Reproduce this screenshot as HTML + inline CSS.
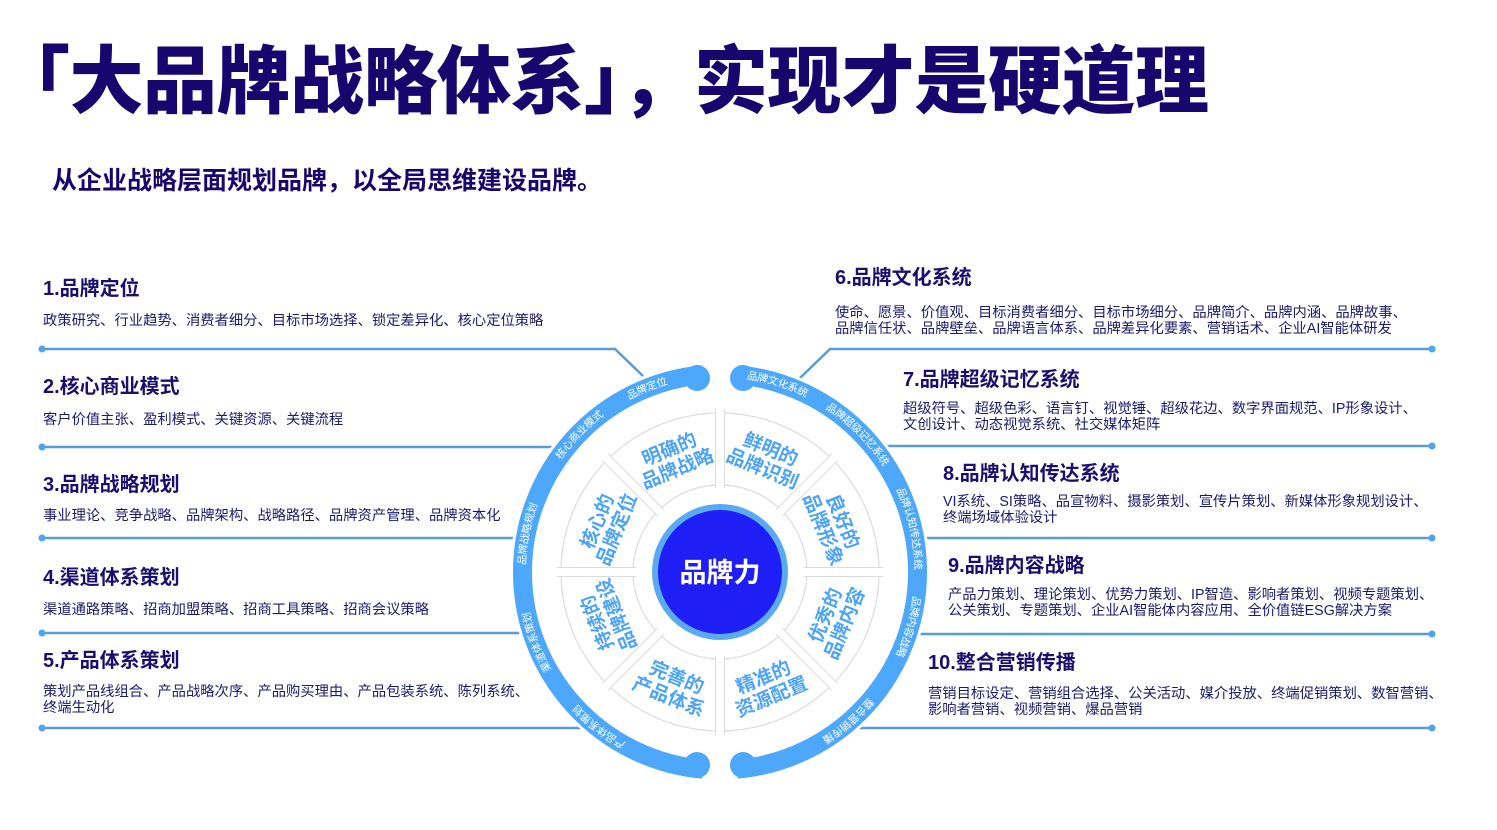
<!DOCTYPE html>
<html><head><meta charset="utf-8"><style>
html,body{margin:0;padding:0;background:#fff;}
body{width:1497px;height:830px;position:relative;overflow:hidden;font-family:"Liberation Sans","Noto Sans CJK SC",sans-serif;color:#1a0f6e;}
.t{position:absolute;white-space:nowrap;}
.title{left:-4px;top:40px;font-size:74px;font-weight:900;color:#16066e;letter-spacing:-0.5px;line-height:84px;}
.sub{left:52px;top:166px;font-size:25px;font-weight:700;color:#16066e;line-height:30px;}
.h{font-size:20px;font-weight:700;color:#1a0f6e;line-height:24px;}
.d{font-size:14.3px;color:#1a1a6e;line-height:16px;}
svg{position:absolute;left:0;top:0;}
</style></head><body>
<div class="t title">「大品牌战略体系」，实现才是硬道理</div>
<div class="t sub">从企业战略层面规划品牌，以全局思维建设品牌。</div>

<svg width="1497" height="830" viewBox="0 0 1497 830">
 <g stroke="#5b9bd5" stroke-width="2.5" fill="none">
  <polyline points="42,349 615,349 643,376"/>
  <line x1="42" y1="447" x2="555" y2="447"/>
  <line x1="42" y1="538" x2="516" y2="538"/>
  <line x1="42" y1="633" x2="522" y2="633"/>
  <line x1="42" y1="728" x2="584" y2="728"/>
  <polyline points="1432,349 830,349 800,378"/>
  <line x1="1432" y1="446" x2="885" y2="446"/>
  <line x1="1432" y1="538" x2="924" y2="538"/>
  <line x1="1432" y1="634" x2="918" y2="634"/>
  <line x1="1432" y1="728" x2="856" y2="728"/>
 </g>
 <g fill="#4da3f5">
  <circle cx="42" cy="349" r="3.5"/><circle cx="42" cy="447" r="3.5"/><circle cx="42" cy="538" r="3.5"/><circle cx="42" cy="633" r="3.5"/><circle cx="42" cy="728" r="3.5"/>
  <circle cx="1432" cy="349" r="3.5"/><circle cx="1432" cy="446" r="3.5"/><circle cx="1432" cy="538" r="3.5"/><circle cx="1432" cy="634" r="3.5"/><circle cx="1432" cy="728" r="3.5"/>
 </g>
 <defs>
  <path id="la" d="M702.7,769.2 A198,198 0 0 1 702.7,374.8"/>
  <path id="ra" d="M737.3,374.8 A198,198 0 0 1 737.3,769.2"/>
 </defs>
 <circle cx="720" cy="572" r="210" fill="#fff"/>
 <g stroke="#4da8fb" stroke-width="19" fill="none">
  <use href="#la"/><use href="#ra"/>
 </g>
 <g fill="#4da8fb">
  <circle cx="697" cy="378" r="13"/><circle cx="697" cy="765" r="13"/>
  <circle cx="743" cy="378" r="13"/><circle cx="743" cy="765" r="13"/>
 </g>
 <g font-size="10.5" fill="#fff" text-anchor="middle" dominant-baseline="central" font-family="Liberation Sans,Noto Sans CJK SC,sans-serif">
  <text><textPath href="#la" startOffset="528.7">品牌定位</textPath></text>
  <text><textPath href="#la" startOffset="445.8">核心商业模式</textPath></text>
  <text><textPath href="#la" startOffset="331.7">品牌战略规划</textPath></text>
  <text><textPath href="#la" startOffset="221">渠道体系策划</textPath></text>
  <text><textPath href="#la" startOffset="114">产品体系策划</textPath></text>
  <text><textPath href="#ra" startOffset="41.5">品牌文化系统</textPath></text>
  <text><textPath href="#ra" startOffset="138">品牌超级记忆系统</textPath></text>
  <text><textPath href="#ra" startOffset="248.8">品牌认知传达系统</textPath></text>
  <text><textPath href="#ra" startOffset="349">品牌内容战略</textPath></text>
  <text><textPath href="#ra" startOffset="463">整合营销传播</textPath></text>
 </g>
 <circle cx="720" cy="572" r="123" fill="none" stroke="#fff" stroke-width="72"/>
 <circle cx="720" cy="572" r="159" fill="none" stroke="#dcdcdc" stroke-width="1.2"/>
 <circle cx="720" cy="572" r="87" fill="none" stroke="#dcdcdc" stroke-width="1.2"/>
 <g stroke="#dcdcdc" stroke-width="10">
  <line x1="720" y1="409" x2="720" y2="735"/>
  <line x1="557" y1="572" x2="883" y2="572"/>
  <line x1="604.7" y1="456.7" x2="835.3" y2="687.3"/>
  <line x1="835.3" y1="456.7" x2="604.7" y2="687.3"/>
 </g>
 <g stroke="#fff" stroke-width="8">
  <line x1="720" y1="405" x2="720" y2="739"/>
  <line x1="553" y1="572" x2="887" y2="572"/>
  <line x1="602" y1="454" x2="838" y2="690"/>
  <line x1="838" y1="454" x2="602" y2="690"/>
 </g>
 <circle cx="720" cy="572" r="84" fill="#fff"/>
 <g font-size="19" font-weight="700" fill="#4da3f5" text-anchor="middle" font-family="Liberation Sans,Noto Sans CJK SC,sans-serif">
  <g transform="translate(673,458) rotate(-22.5)"><text y="-3">明确的</text><text y="18">品牌战略</text></g>
  <g transform="translate(767,458) rotate(22.5)"><text y="-3">鲜明的</text><text y="18">品牌识别</text></g>
  <g transform="translate(834,525) rotate(67.5)"><text y="-3">良好的</text><text y="18">品牌形象</text></g>
  <g transform="translate(834,619) rotate(-67.5)"><text y="-3">优秀的</text><text y="18">品牌内容</text></g>
  <g transform="translate(767,686) rotate(-22.5)"><text y="-3">精准的</text><text y="18">资源配置</text></g>
  <g transform="translate(673,686) rotate(22.5)"><text y="-3">完善的</text><text y="18">产品体系</text></g>
  <g transform="translate(606,619) rotate(-112.5)"><text y="-3">持续的</text><text y="18">品牌建设</text></g>
  <g transform="translate(606,525) rotate(-67.5)"><text y="-3">核心的</text><text y="18">品牌定位</text></g>
 </g>
 <circle cx="720" cy="572" r="68" fill="#5aaaf0"/>
 <circle cx="720" cy="572" r="62" fill="#1f1ff5"/>
 <text x="720" y="582" font-size="27" font-weight="700" fill="#fff" text-anchor="middle" font-family="Liberation Sans,Noto Sans CJK SC,sans-serif">品牌力</text>
</svg>

<div class="t h" style="left:43px;top:277px">1.品牌定位</div>
<div class="t d" style="left:43px;top:313px">政策研究、行业趋势、消费者细分、目标市场选择、锁定差异化、核心定位策略</div>
<div class="t h" style="left:43px;top:375px">2.核心商业模式</div>
<div class="t d" style="left:43px;top:412px">客户价值主张、盈利模式、关键资源、关键流程</div>
<div class="t h" style="left:43px;top:473px">3.品牌战略规划</div>
<div class="t d" style="left:43px;top:508px">事业理论、竞争战略、品牌架构、战略路径、品牌资产管理、品牌资本化</div>
<div class="t h" style="left:43px;top:566px">4.渠道体系策划</div>
<div class="t d" style="left:43px;top:602px">渠道通路策略、招商加盟策略、招商工具策略、招商会议策略</div>
<div class="t h" style="left:43px;top:649px">5.产品体系策划</div>
<div class="t d" style="left:43px;top:684px">策划产品线组合、产品战略次序、产品购买理由、产品包装系统、陈列系统、<br>终端生动化</div>

<div class="t h" style="left:835px;top:266px">6.品牌文化系统</div>
<div class="t d" style="left:835px;top:305px">使命、愿景、价值观、目标消费者细分、目标市场细分、品牌简介、品牌内涵、品牌故事、<br>品牌信任状、品牌壁垒、品牌语言体系、品牌差异化要素、营销话术、企业AI智能体研发</div>
<div class="t h" style="left:903px;top:368px">7.品牌超级记忆系统</div>
<div class="t d" style="left:903px;top:401px">超级符号、超级色彩、语言钉、视觉锤、超级花边、数字界面规范、IP形象设计、<br>文创设计、动态视觉系统、社交媒体矩阵</div>
<div class="t h" style="left:943px;top:462px">8.品牌认知传达系统</div>
<div class="t d" style="left:943px;top:494px">VI系统、SI策略、品宣物料、摄影策划、宣传片策划、新媒体形象规划设计、<br>终端场域体验设计</div>
<div class="t h" style="left:948px;top:554px">9.品牌内容战略</div>
<div class="t d" style="left:948px;top:587px">产品力策划、理论策划、优势力策划、IP智造、影响者策划、视频专题策划、<br>公关策划、专题策划、企业AI智能体内容应用、全价值链ESG解决方案</div>
<div class="t h" style="left:928px;top:651px">10.整合营销传播</div>
<div class="t d" style="left:928px;top:686px">营销目标设定、营销组合选择、公关活动、媒介投放、终端促销策划、数智营销、<br>影响者营销、视频营销、爆品营销</div>
</body></html>
